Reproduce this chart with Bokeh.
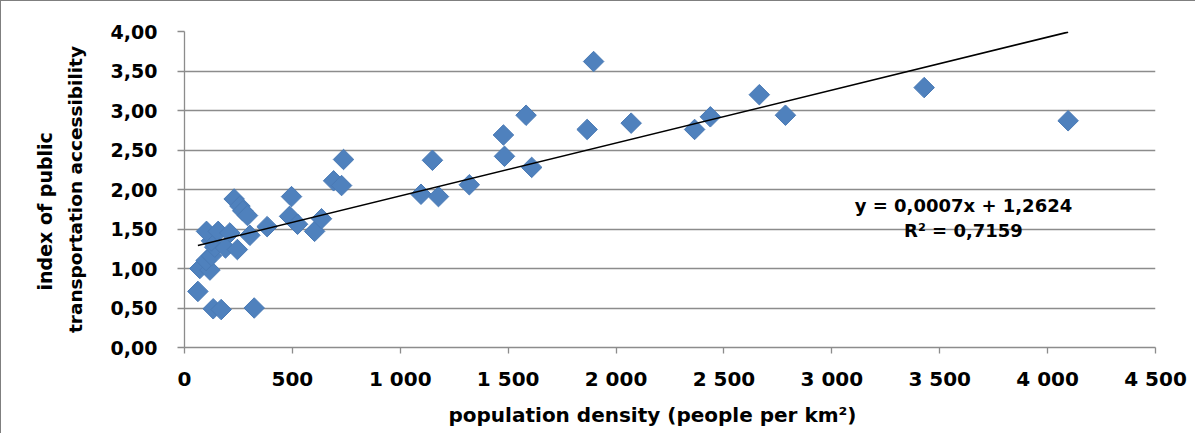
import numpy as np
from bokeh.plotting import figure
from bokeh.models import Range1d, CustomJSTickFormatter, FixedTicker, Label, Title
from bokeh.embed import file_html
from bokeh.resources import INLINE

# ---- data ----
density = [62, 133, 170, 323, 71, 118, 100, 125, 140, 125, 102, 156, 210, 190, 245,
           303, 383, 230, 257, 270, 292, 487, 496, 524, 603, 635, 691, 728, 737,
           1096, 1149, 1177, 1320, 1478, 1483, 1583, 1609, 1866, 1896, 2070,
           2364, 2437, 2664, 2785, 3428, 4095]
index = [0.71, 0.49, 0.48, 0.50, 1.00, 0.98, 1.10, 1.16, 1.27, 1.35, 1.47, 1.47, 1.45, 1.26, 1.24,
         1.42, 1.53, 1.88, 1.79, 1.73, 1.67, 1.66, 1.91, 1.56, 1.47, 1.63, 2.11, 2.05, 2.38,
         1.94, 2.37, 1.91, 2.06, 2.69, 2.42, 2.94, 2.28, 2.76, 3.62, 2.84,
         2.76, 2.92, 3.20, 2.94, 3.29, 2.87]
x_ticks = [0, 500, 1000, 1500, 2000, 2500, 3000, 3500, 4000, 4500]
y_ticks = [0, 0.5, 1.0, 1.5, 2.0, 2.5, 3.0, 3.5, 4.0]
eq_text = "y = 0,0007x + 1,2624"
r2_text = "R\u00b2 = 0,7159"
x_title = "population density (people per km\u00b2)"
y_title_1 = "index of public"
y_title_2 = "transportation accessibility"

FONT = "DejaVu Sans"
GRID = "#8c8c8c"

p = figure(width=1195, height=433, output_backend="svg", toolbar_location=None,
           x_range=Range1d(0, 4500), y_range=Range1d(0, 4),
           min_border_left=183, min_border_right=41, min_border_top=30, min_border_bottom=87)
p.styles = {"border-top": "1px solid #7f7f7f", "border-left": "1px solid #7f7f7f"}
p.outline_line_color = None
p.background_fill_color = "white"
p.border_fill_color = "white"

p.xgrid.grid_line_color = None
p.ygrid.grid_line_color = GRID
p.ygrid.grid_line_width = 1.3
p.yaxis.ticker = FixedTicker(ticks=y_ticks)
p.xaxis.ticker = FixedTicker(ticks=x_ticks)
p.ygrid.ticker = FixedTicker(ticks=y_ticks)

p.yaxis.formatter = CustomJSTickFormatter(code="return tick.toFixed(2).replace('.', ',');")
p.xaxis.formatter = CustomJSTickFormatter(
    code="return tick.toFixed(0).replace(/\\B(?=(\\d{3})+(?!\\d))/g, ' ');")

for ax in (p.xaxis, p.yaxis):
    ax.axis_line_color = GRID
    ax.axis_line_width = 1.3
    ax.major_tick_line_color = GRID
    ax.major_tick_line_width = 1.3
    ax.major_tick_in = 0
    ax.minor_tick_line_color = None
    ax.major_label_text_font = FONT
    ax.major_label_text_font_style = "bold"
    ax.major_label_text_color = "black"

p.xaxis.major_tick_out = 6
p.yaxis.major_tick_out = 7
p.xaxis.major_label_text_font_size = "20px"
p.yaxis.major_label_text_font_size = "19px"
p.xaxis.major_label_standoff = 13
p.yaxis.major_label_standoff = 20

# second line of the y title as the axis label
p.yaxis.axis_label = y_title_2
p.yaxis.axis_label_text_font = FONT
p.yaxis.axis_label_text_font_style = "bold"
p.yaxis.axis_label_text_font_size = "18.5px"
p.yaxis.axis_label_text_color = "black"
p.yaxis.axis_label_standoff = 22

# scatter
p.scatter(density, index, marker="square", angle=np.pi / 4, size=14.5,
          fill_color="#4f81bd", line_color="#4a7ab5", line_width=1)

# linear trend line fitted to the data
slope, intercept = np.polyfit(density, index, 1)
xs = np.array([min(density), max(density)])
p.line(xs, slope * xs + intercept, line_color="black", line_width=1.6)

def lbl(x, y, text):
    p.add_layout(Label(x=x, y=y, text=text, text_align="center", text_baseline="middle",
                       text_font=FONT, text_font_style="bold",
                       text_font_size="18px", text_color="black"))

lbl(3610, 1.80, eq_text)
lbl(3610, 1.48, r2_text)

def title(text, side, standoff, offset, size):
    t = Title(text=text, align="left", standoff=standoff, offset=offset,
              text_font=FONT, text_font_style="bold", text_font_size=size,
              text_color="black")
    p.add_layout(t, side)

title(x_title, "below", 14, 264, "20px")
title(y_title_1, "left", 12, 57, "19px")

open("out.html", "w").write(file_html(p, INLINE))
